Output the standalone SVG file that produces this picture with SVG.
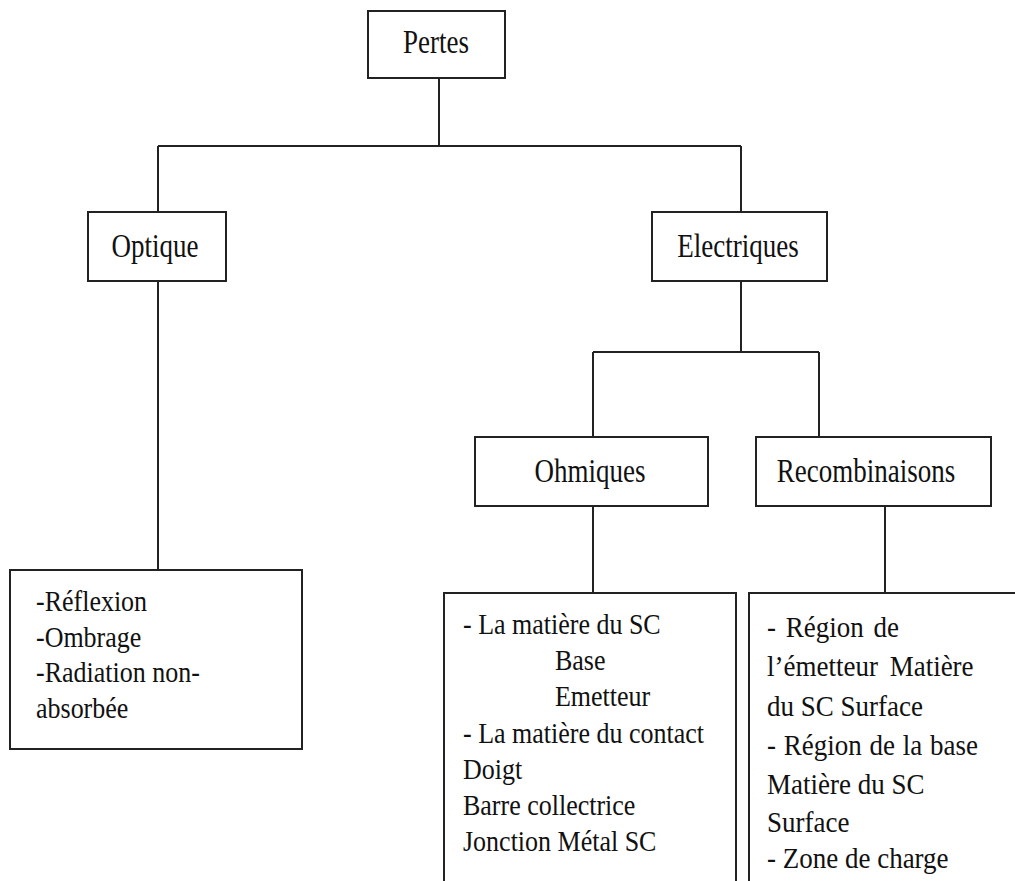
<svg xmlns="http://www.w3.org/2000/svg" width="1015" height="881" viewBox="0 0 1015 881">
<style>
.box{fill:#fff;stroke:#222;stroke-width:2}
.con{fill:none;stroke:#222;stroke-width:2}
.h{font-family:"Liberation Serif","Times New Roman",serif;font-size:27px;fill:#111;text-anchor:middle}
.t{font-family:"Liberation Serif","Times New Roman",serif;font-size:26px;fill:#111}
.r{font-family:"Liberation Serif","Times New Roman",serif;font-size:27px;fill:#111}
</style>
<rect width="1015" height="881" fill="#fff"/>
<g id="connectors">
<path class="con" d="M439,78 V146 M158,146 H741 M158,146 V212 M741,146 V212"/>
<path class="con" d="M158,281 V570"/>
<path class="con" d="M741,281 V352 M593,352 H819 M593,352 V437 M819,352 V437"/>
<path class="con" d="M593,506 V593"/>
<path class="con" d="M885,506 V593"/>
</g>
<g id="pertes">
<rect class="box" x="368" y="11" width="137" height="67"/>
<text class="h" transform="translate(436,53) scale(1,1.22)">Pertes</text>
</g>
<g id="optique">
<rect class="box" x="88" y="212" width="138" height="69"/>
<text class="h" transform="translate(155,256.5) scale(1,1.22)">Optique</text>
</g>
<g id="electriques">
<rect class="box" x="652" y="212" width="175" height="69"/>
<text class="h" transform="translate(738,256.5) scale(1,1.22)">Electriques</text>
</g>
<g id="ohmiques">
<rect class="box" x="475" y="437" width="233" height="69"/>
<text class="h" transform="translate(590,481.5) scale(1,1.22)">Ohmiques</text>
</g>
<g id="recombinaisons">
<rect class="box" x="756" y="437" width="235" height="69"/>
<text class="h" transform="translate(866,481.5) scale(1,1.22)">Recombinaisons</text>
</g>
<g id="optique-list">
<rect class="box" x="10" y="570" width="292" height="179"/>
<text class="t" transform="translate(36,611) scale(1,1.14)">-Réflexion</text>
<text class="t" transform="translate(36,646.5) scale(1,1.14)">-Ombrage</text>
<text class="t" transform="translate(36,682) scale(1,1.14)">-Radiation non-</text>
<text class="t" transform="translate(36,717.5) scale(1,1.14)">absorbée</text>
</g>
<g id="ohmiques-list">
<rect class="box" x="444" y="593" width="292" height="300"/>
<text class="t" transform="translate(463,634) scale(1,1.15)">- La matière du SC</text>
<text class="t" transform="translate(555,670) scale(1,1.15)">Base</text>
<text class="t" transform="translate(555,706) scale(1,1.15)">Emetteur</text>
<text class="t" transform="translate(463,742.5) scale(1,1.15)">- La matière du contact</text>
<text class="t" transform="translate(463,778.5) scale(1,1.15)">Doigt</text>
<text class="t" transform="translate(463,814.5) scale(1,1.15)">Barre collectrice</text>
<text class="t" transform="translate(463,850.5) scale(1,1.15)">Jonction Métal SC</text>
</g>
<g id="recombinaisons-list">
<rect class="box" x="749" y="593" width="290" height="300"/>
<text class="r" transform="translate(767,637) scale(1,1.12)" word-spacing="3">- Région de</text>
<text class="r" transform="translate(767,676) scale(1,1.12)" word-spacing="5">l’émetteur Matière</text>
<text class="r" transform="translate(767,716) scale(1,1.12)">du SC Surface</text>
<text class="r" transform="translate(767,755) scale(1,1.12)" word-spacing="1">- Région de la base</text>
<text class="r" transform="translate(767,794) scale(1,1.12)">Matière du SC</text>
<text class="r" transform="translate(767,832) scale(1,1.12)">Surface</text>
<text class="r" transform="translate(767,868) scale(1,1.12)">- Zone de charge</text>
</g>
</svg>
